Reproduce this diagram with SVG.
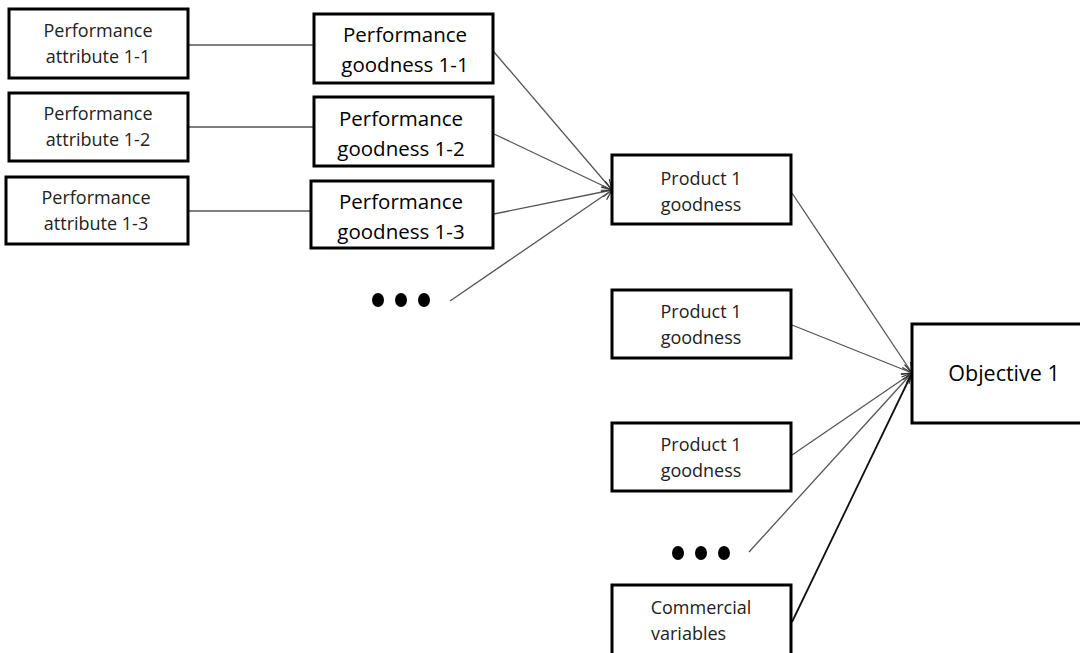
<svg xmlns="http://www.w3.org/2000/svg" width="1080" height="653" viewBox="0 0 1080 653">
<style>
.box{fill:#fff;stroke:#000;stroke-width:3}
.t{font-family:"Open Sans","Liberation Sans",sans-serif;fill:#222;text-anchor:middle}
.s{font-size:18px}
.b{font-size:20.5px;fill:#000}
.o{font-size:21.5px;fill:#000}
.c{stroke:#555;stroke-width:1.3;fill:none}
.dot{fill:#000}
</style>
<defs>
<marker id="ah" viewBox="0 0 12 12" refX="11" refY="6" markerWidth="12" markerHeight="12" markerUnits="userSpaceOnUse" orient="auto">
<path d="M1,1 L11,6 L1,11" fill="none" stroke="#333" stroke-width="1.2"/>
</marker>
</defs>
<g id="connectors">
<line class="c" x1="188" y1="45" x2="314" y2="45"/>
<line class="c" x1="188" y1="127" x2="314" y2="127"/>
<line class="c" x1="188" y1="211" x2="311" y2="211"/>
<line class="c" x1="494" y1="52" x2="612" y2="190" marker-end="url(#ah)"/>
<line class="c" x1="494" y1="134" x2="612" y2="190" marker-end="url(#ah)"/>
<line class="c" x1="494" y1="214" x2="612" y2="190" marker-end="url(#ah)"/>
<line class="c" x1="450" y1="301" x2="612" y2="190" marker-end="url(#ah)"/>
<line class="c" x1="792" y1="193" x2="912" y2="373" marker-end="url(#ah)"/>
<line class="c" x1="792" y1="325" x2="912" y2="373" marker-end="url(#ah)"/>
<line class="c" x1="792" y1="455" x2="912" y2="373" marker-end="url(#ah)"/>
<line class="c" x1="749" y1="552" x2="912" y2="373" marker-end="url(#ah)"/>
<line class="c" x1="792" y1="622" x2="912" y2="373" style="stroke:#111;stroke-width:1.8" marker-end="url(#ah)"/>
</g>
<g id="attr1"><rect class="box" x="9" y="9" width="179" height="69"/><text class="t s" x="98" y="37">Performance</text><text class="t s" x="98" y="63">attribute 1-1</text></g>
<g id="attr2"><rect class="box" x="9" y="93" width="179" height="68"/><text class="t s" x="98" y="120">Performance</text><text class="t s" x="98" y="146">attribute 1-2</text></g>
<g id="attr3"><rect class="box" x="6" y="177" width="182" height="67"/><text class="t s" x="96" y="204">Performance</text><text class="t s" x="96" y="230">attribute 1-3</text></g>
<g id="good1"><rect class="box" x="314" y="14" width="179" height="69"/><text class="t b" x="405" y="42">Performance</text><text class="t b" x="405" y="72">goodness 1-1</text></g>
<g id="good2"><rect class="box" x="314" y="97" width="179" height="69"/><text class="t b" x="401" y="126">Performance</text><text class="t b" x="401" y="156">goodness 1-2</text></g>
<g id="good3"><rect class="box" x="311" y="181" width="182" height="67"/><text class="t b" x="401" y="209">Performance</text><text class="t b" x="401" y="239">goodness 1-3</text></g>
<g id="dots1"><ellipse class="dot" cx="378" cy="300" rx="6" ry="7"/><ellipse class="dot" cx="401" cy="300" rx="6" ry="7"/><ellipse class="dot" cx="424" cy="300" rx="6" ry="7"/></g>
<g id="prod1"><rect class="box" x="612" y="155" width="179" height="69"/><text class="t s" x="701" y="185">Product 1</text><text class="t s" x="701" y="211">goodness</text></g>
<g id="prod2"><rect class="box" x="612" y="290" width="179" height="68"/><text class="t s" x="701" y="318">Product 1</text><text class="t s" x="701" y="344">goodness</text></g>
<g id="prod3"><rect class="box" x="612" y="423" width="179" height="68"/><text class="t s" x="701" y="451">Product 1</text><text class="t s" x="701" y="477">goodness</text></g>
<g id="dots2"><ellipse class="dot" cx="678" cy="553" rx="6" ry="7"/><ellipse class="dot" cx="701" cy="553" rx="6" ry="7"/><ellipse class="dot" cx="724" cy="553" rx="6" ry="7"/></g>
<g id="commercial"><rect class="box" x="612" y="585" width="179" height="70"/><text class="t s" x="701" y="614">Commercial</text><text class="t s" x="651" y="640" style="text-anchor:start">variables</text></g>
<g id="objective"><rect class="box" x="912" y="324" width="172" height="99"/><text class="t o" x="1004" y="381">Objective 1</text></g>
</svg>
